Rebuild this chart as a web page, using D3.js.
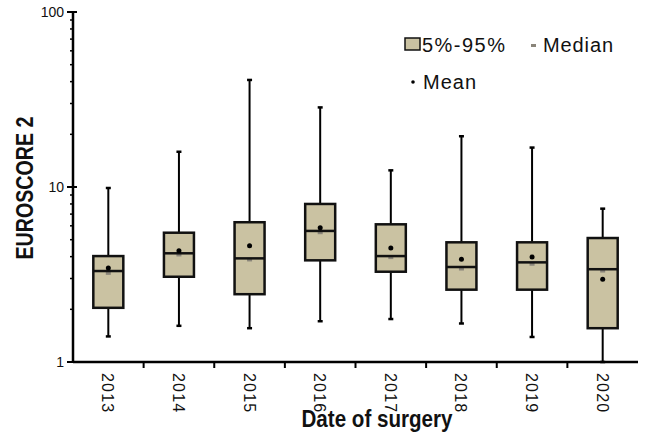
<!DOCTYPE html>
<html>
<head>
<meta charset="utf-8">
<script src="https://cdn.jsdelivr.net/npm/d3@7"></script>
<style>
    body { margin: 0; background: #fff; }
    text { font-family: "Liberation Sans", Arial, sans-serif; fill: #111; }
</style>
</head>
<body>
<svg id="chart" width="649" height="444"></svg>
<script>
// box plot data (EuroSCORE II by year)
var years    = ["2013","2014","2015","2016","2017","2018","2019","2020"];
var p5       = [1.40, 1.61, 1.56, 1.71, 1.76, 1.66, 1.39, 1.00];
var q1       = [2.04, 3.07, 2.44, 3.81, 3.28, 2.59, 2.59, 1.56];
var medians  = [3.31, 4.18, 3.91, 5.61, 4.03, 3.49, 3.71, 3.39];
var medMarks = [3.21, 4.09, 3.83, 5.48, 3.95, 3.40, 3.62, 3.31];
var q3       = [4.03, 5.48, 6.29, 8.00, 6.12, 4.83, 4.83, 5.11];
var p95      = [9.87, 15.9, 40.9, 28.5, 12.45, 19.5, 16.8, 7.52];
var means    = [3.44, 4.32, 4.62, 5.85, 4.48, 3.86, 3.98, 2.97];
var yTicks   = [1, 10, 100];

var boxFill = "#cac2a2";

var svg = d3.select("#chart");
var pLeft = 73, pRight = 638, pTop = 12, pBottom = 362;

var x = d3.scaleBand().domain(years).range([pLeft, pRight]).paddingInner(0).paddingOuter(0);
var y = d3.scaleLog().domain([1, 100]).range([pBottom, pTop]);

var rows = years.map(function(yr, i){
    return {yr: yr, lo: p5[i], q1: q1[i], med: medians[i], mm: medMarks[i], q3: q3[i], hi: p95[i], mean: means[i]};
});

// y axis line and ticks
var g = svg.append("g");
g.append("line").attr("x1", pLeft).attr("x2", pLeft).attr("y1", pTop).attr("y2", pBottom)
    .attr("stroke", "#000").attr("stroke-width", 2.5);
yTicks.forEach(function(v){
    g.append("line").attr("x1", pLeft - 6).attr("x2", pLeft + 4).attr("y1", y(v)).attr("y2", y(v))
        .attr("stroke", "#000").attr("stroke-width", 2);
    g.append("text").attr("x", pLeft - 9).attr("y", y(v) + 5).attr("text-anchor", "end")
        .style("font-size", "14px").text(v);
});
// minor ticks
[1, 10].forEach(function(d){
    for (var k = 2; k <= 9; k++){
        g.append("line").attr("x1", pLeft - 3).attr("x2", pLeft).attr("y1", y(d*k)).attr("y2", y(d*k))
            .attr("stroke", "#000").attr("stroke-width", 1.5);
    }
});

// x axis with ticks at band edges
g.append("line").attr("x1", pLeft).attr("x2", pRight).attr("y1", pBottom).attr("y2", pBottom)
    .attr("stroke", "#000").attr("stroke-width", 2.5);
years.forEach(function(yr, i){
    if (i > 0) {
        g.append("line").attr("x1", x(yr)).attr("x2", x(yr)).attr("y1", pBottom).attr("y2", pBottom + 6)
            .attr("stroke", "#000").attr("stroke-width", 2);
    }
    var cx = x(yr) + x.bandwidth()/2;
    g.append("text").attr("transform", "translate(" + (cx - 6) + "," + (pBottom + 11) + ") rotate(90)")
        .style("font-size", "16px").style("letter-spacing", "1.2px").text(yr);
});

// boxes
var bw = 30;
var boxes = svg.append("g").selectAll("g").data(rows).enter().append("g")
    .attr("transform", function(d){ return "translate(" + (x(d.yr) + x.bandwidth()/2) + ",0)"; });

boxes.append("line").attr("x1", 0).attr("x2", 0)
    .attr("y1", function(d){ return y(d.hi); }).attr("y2", function(d){ return y(d.lo); })
    .attr("stroke", "#000").attr("stroke-width", 2);
boxes.append("line").attr("x1", -2.5).attr("x2", 2.5)
    .attr("y1", function(d){ return y(d.hi); }).attr("y2", function(d){ return y(d.hi); })
    .attr("stroke", "#000").attr("stroke-width", 2.5);
boxes.append("line").attr("x1", -2.5).attr("x2", 2.5)
    .attr("y1", function(d){ return y(d.lo); }).attr("y2", function(d){ return y(d.lo); })
    .attr("stroke", "#000").attr("stroke-width", 2.5);
boxes.append("rect").attr("x", -bw/2).attr("width", bw)
    .attr("y", function(d){ return y(d.q3); })
    .attr("height", function(d){ return y(d.q1) - y(d.q3); })
    .attr("fill", boxFill).attr("stroke", "#111").attr("stroke-width", 2.5);
boxes.append("rect").attr("x", -2.5).attr("width", 5).attr("height", 3)
    .attr("y", function(d){ return y(d.mm) - 1.5; })
    .attr("fill", "#8a857a");
boxes.append("line").attr("x1", -bw/2).attr("x2", bw/2)
    .attr("y1", function(d){ return y(d.med); }).attr("y2", function(d){ return y(d.med); })
    .attr("stroke", "#111").attr("stroke-width", 2.5);
boxes.append("circle").attr("r", 2.5)
    .attr("cy", function(d){ return y(d.mean); })
    .attr("fill", "#000");

// legend
var lg = svg.append("g");
lg.append("rect").attr("x", 405).attr("y", 38).attr("width", 15).attr("height", 12)
    .attr("fill", boxFill).attr("stroke", "#111").attr("stroke-width", 1.5);
lg.append("text").attr("x", 422).attr("y", 52).style("font-size", "20px")
    .attr("textLength", 83).attr("lengthAdjust", "spacing").text("5%-95%");
lg.append("rect").attr("x", 531).attr("y", 44).attr("width", 5).attr("height", 3).attr("fill", "#8a857a");
lg.append("text").attr("x", 543).attr("y", 52).style("font-size", "20px")
    .attr("textLength", 70).attr("lengthAdjust", "spacing").text("Median");
lg.append("circle").attr("cx", 413).attr("cy", 82).attr("r", 1.8).attr("fill", "#000");
lg.append("text").attr("x", 423).attr("y", 89).style("font-size", "20px")
    .attr("textLength", 53).attr("lengthAdjust", "spacing").text("Mean");

// axis titles
svg.append("text").attr("transform", "translate(33,188) rotate(-90)").attr("text-anchor", "middle")
    .attr("textLength", 143).attr("lengthAdjust", "spacingAndGlyphs")
    .style("font-size", "23px").style("font-weight", "bold").text("EUROSCORE 2");
svg.append("text").attr("x", 377).attr("y", 427).attr("text-anchor", "middle")
    .attr("textLength", 151).attr("lengthAdjust", "spacingAndGlyphs")
    .style("font-size", "23px").style("font-weight", "bold").text("Date of surgery");
</script>
</body>
</html>
